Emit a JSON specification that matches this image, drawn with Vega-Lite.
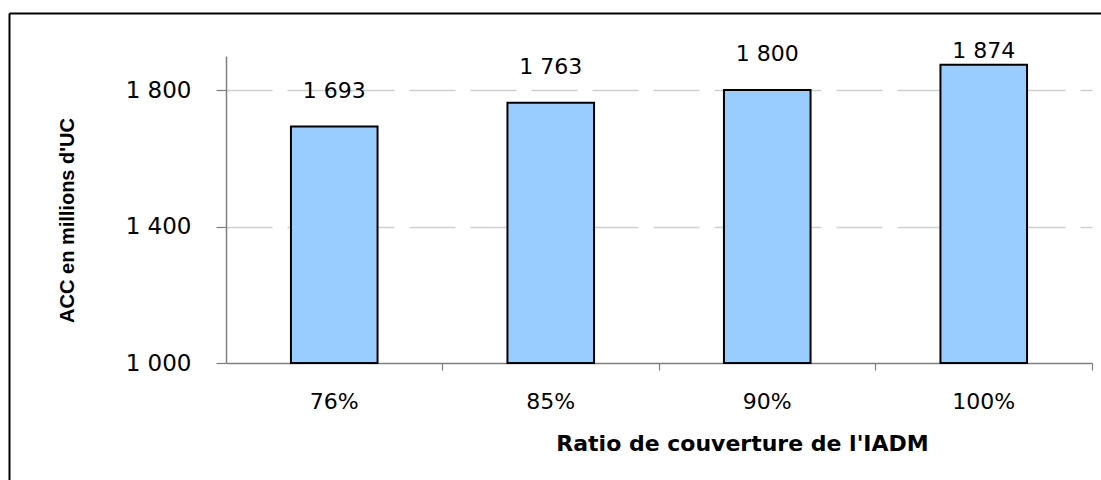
{
  "$schema": "https://vega.github.io/schema/vega-lite/v6.json",
  "autosize": {"type": "none"},
  "padding": {"left": 226, "top": 56, "right": 9, "bottom": 117},
  "width": 866,
  "height": 307,
  "background": "white",
  "config": {
    "view": {"stroke": null},
    "locale": {
      "number": {"decimal": ",", "thousands": " ", "grouping": [3], "currency": ["", " €"]}
    }
  },
  "data": {
    "values": [
      {"ratio": "76%", "acc": 1693},
      {"ratio": "85%", "acc": 1763},
      {"ratio": "90%", "acc": 1800},
      {"ratio": "100%", "acc": 1874}
    ]
  },
  "layer": [
    {
      "layer": [
        {
          "mark": {"type": "bar", "fill": "#99CCFF", "stroke": "#000000", "strokeWidth": 2},
          "encoding": {
            "x": {
              "field": "ratio",
              "type": "nominal",
              "sort": null,
              "scale": {"paddingInner": 0.6, "paddingOuter": 0.3},
              "axis": {
                "title": "Ratio de couverture de l'IADM",
                "labelAngle": 0,
                "bandPosition": 1.75,
                "tickSize": 7,
                "tickColor": "#7F7F7F",
                "tickWidth": 1.2,
                "domainColor": "#7F7F7F",
                "domainWidth": 1.5,
                "labelFont": "DejaVu Sans",
                "labelFontSize": 22,
                "labelColor": "#000000",
                "labelPadding": 31,
                "labelBaseline": "middle",
                "titleFont": "DejaVu Sans",
                "titleFontWeight": "bold",
                "titleFontSize": 22,
                "titleColor": "#000000",
                "titleX": 516,
                "titleY": 80,
                "titleAlign": "center",
                "titleBaseline": "middle"
              }
            },
            "y": {
              "field": "acc",
              "type": "quantitative",
              "scale": {"domain": [1000, 1900], "zero": false, "nice": false},
              "axis": {
                "values": [1000, 1400, 1800],
                "format": ",d",
                "title": "ACC en millions d'UC",
                "titleFont": "Liberation Sans",
                "titleFontWeight": "bold",
                "titleFontSize": 20,
                "titleColor": "#000000",
                "titleX": -159,
                "titleY": 164,
                "titleAlign": "center",
                "titleBaseline": "middle",
                "tickSize": 10,
                "tickColor": "#7F7F7F",
                "tickWidth": 1.2,
                "domainColor": "#7F7F7F",
                "domainWidth": 1.5,
                "labelFont": "DejaVu Sans",
                "labelFontSize": 23,
                "labelColor": "#000000",
                "labelPadding": 25,
                "grid": true,
                "gridDash": [46, 15],
                "gridColor": "#D0D0D0",
                "gridWidth": 1.5,
                "gridOpacity": {"condition": {"test": "datum.value === 1000", "value": 0}, "value": 1}
              }
            },
            "y2": {"datum": 1000}
          }
        },
        {
          "transform": [{"filter": "datum.acc < 1850"}],
          "mark": {"type": "text", "dy": -36, "font": "DejaVu Sans", "fontSize": 22, "baseline": "middle", "color": "#000000"},
          "encoding": {
            "x": {"field": "ratio", "type": "nominal", "sort": null},
            "y": {"field": "acc", "type": "quantitative"},
            "text": {"field": "acc", "type": "quantitative", "format": ",d"}
          }
        },
        {
          "transform": [{"filter": "datum.acc >= 1850"}],
          "mark": {"type": "text", "dy": -14, "font": "DejaVu Sans", "fontSize": 22, "baseline": "middle", "color": "#000000"},
          "encoding": {
            "x": {"field": "ratio", "type": "nominal", "sort": null},
            "y": {"field": "acc", "type": "quantitative"},
            "text": {"field": "acc", "type": "quantitative", "format": ",d"}
          }
        }
      ]
    },
    {
      "description": "Outer chart frame drawn as two bare axis domain lines (left and top).",
      "mark": {"type": "point", "opacity": 0, "clip": true},
      "encoding": {
        "x": {
          "field": "acc",
          "type": "quantitative",
          "scale": {"domain": [0, 1], "range": [-217, 875]},
          "axis": {"orient": "top", "offset": 43, "domainColor": "#000000", "domainWidth": 2, "ticks": false, "labels": false, "grid": false, "title": null}
        },
        "y": {
          "field": "acc",
          "type": "quantitative",
          "scale": {"domain": [0, 1], "range": [440, -43]},
          "axis": {"orient": "left", "offset": 217, "domainColor": "#000000", "domainWidth": 2, "ticks": false, "labels": false, "grid": false, "title": null}
        }
      }
    }
  ],
  "resolve": {"scale": {"x": "independent", "y": "independent"}}
}
